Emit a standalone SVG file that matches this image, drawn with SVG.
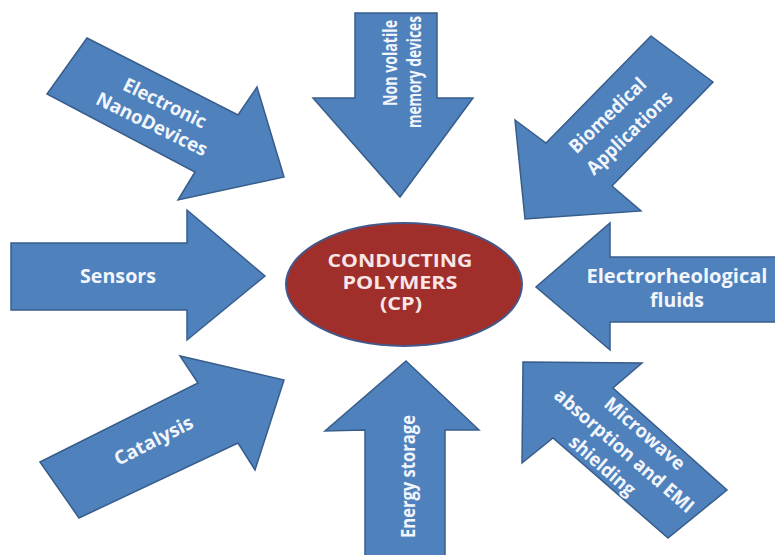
<svg xmlns="http://www.w3.org/2000/svg" width="775" height="555" viewBox="0 0 775 555">
<style>
.arrow{fill:#4f81bd;stroke:#385d8a;stroke-width:1.5;stroke-linejoin:miter}
.lbl{font-family:"Open Sans","Liberation Sans",sans-serif;font-weight:700;font-size:19px;fill:#f2f6fc;text-anchor:middle}
.cp{fill:#f7e6e6;font-size:18px}
.vt{font-size:20px}
</style>
<rect width="775" height="555" fill="#ffffff"/>
<g id="connectors"/>
<g id="electronic-nanodevices">
<polygon class="arrow" points="87,38 238,115 257,87 284,177 178,200 195,172 47,94"/>
<text class="lbl" transform="translate(162,109) rotate(26)" textLength="90" lengthAdjust="spacingAndGlyphs">Electronic</text>
<text class="lbl" transform="translate(149,130) rotate(26)" textLength="121" lengthAdjust="spacingAndGlyphs">NanoDevices</text>
</g>
<g id="non-volatile-memory">
<polygon class="arrow" points="355,13 437,13 437,98 473,98 400,197 313,98 355,98"/>
<text class="lbl vt" transform="translate(397,63) rotate(-90)" textLength="86" lengthAdjust="spacingAndGlyphs">Non volatile</text>
<text class="lbl vt" transform="translate(421,72) rotate(-90)" textLength="112" lengthAdjust="spacingAndGlyphs">memory devices</text>
</g>
<g id="biomedical">
<polygon class="arrow" points="651,36 713,82 612,186 641,211 525,219 515,120 546,143"/>
<text class="lbl" transform="translate(612,120) rotate(-44)" textLength="99" lengthAdjust="spacingAndGlyphs">Biomedical</text>
<text class="lbl" transform="translate(634,137.5) rotate(-44)" textLength="111" lengthAdjust="spacingAndGlyphs">Applications</text>
</g>
<g id="sensors">
<polygon class="arrow" points="11,243 187,243 187,210 265,276 187,340 187,310 11,310"/>
<text class="lbl" x="118" y="283" textLength="76" lengthAdjust="spacingAndGlyphs">Sensors</text>
</g>
<g id="electrorheological">
<polygon class="arrow" points="780,257 610,257 610,223 536,287 610,350 610,322 780,322"/>
<text class="lbl" x="677" y="283" textLength="181" lengthAdjust="spacingAndGlyphs">Electrorheological</text>
<text class="lbl" x="677" y="307" textLength="54" lengthAdjust="spacingAndGlyphs">fluids</text>
</g>
<g id="catalysis">
<polygon class="arrow" points="40,462 198,383 180,356 284,380 255,470 238,443 79,518"/>
<text class="lbl" transform="translate(156.5,446.5) rotate(-27)" textLength="86" lengthAdjust="spacingAndGlyphs">Catalysis</text>
</g>
<g id="energy-storage">
<polygon class="arrow" points="406,361 479,430 445,430 445,560 365,560 365,430 325,431"/>
<text class="lbl vt" transform="translate(415,476.5) rotate(-90)" textLength="123" lengthAdjust="spacingAndGlyphs">Energy storage</text>
</g>
<g id="microwave-emi">
<polygon class="arrow" points="523,362 642,363 613,388 727,490 668,538 553,438 522,463"/>
<text class="lbl" transform="translate(640.5,438.5) rotate(41)" textLength="100" lengthAdjust="spacingAndGlyphs">Microwave</text>
<text class="lbl" transform="translate(620,455.5) rotate(41)" textLength="178" lengthAdjust="spacingAndGlyphs">absorption and EMI</text>
<text class="lbl" transform="translate(598,470.5) rotate(41)" textLength="81" lengthAdjust="spacingAndGlyphs">shielding</text>
</g>
<g id="conducting-polymers">
<ellipse cx="404" cy="284.5" rx="118" ry="61.5" fill="#a02e2b" stroke="#45588a" stroke-width="2"/>
<text class="lbl cp" x="400" y="267" textLength="145" lengthAdjust="spacingAndGlyphs">CONDUCTING</text>
<text class="lbl cp" x="400" y="289" textLength="115" lengthAdjust="spacingAndGlyphs">POLYMERS</text>
<text class="lbl cp" x="401" y="310" textLength="42" lengthAdjust="spacingAndGlyphs">(CP)</text>
</g>
</svg>
